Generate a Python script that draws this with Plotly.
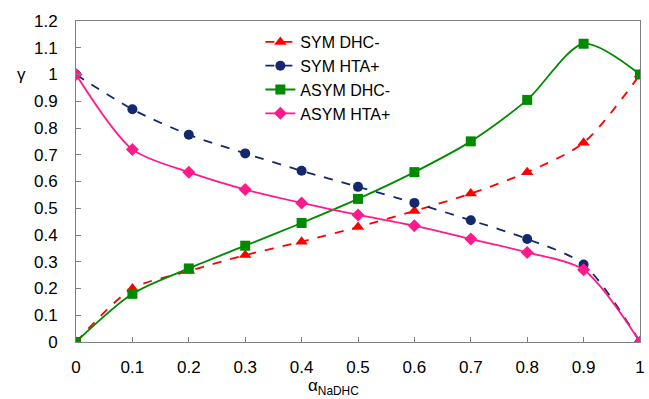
import plotly.graph_objects as go

x_vals = [0, 0.1, 0.2, 0.3, 0.4, 0.5, 0.6, 0.7, 0.8, 0.9, 1.0]
x_ticktext = ["0", "0.1", "0.2", "0.3", "0.4", "0.5", "0.6", "0.7", "0.8", "0.9", "1"]
sym_dhc = [0, 0.20, 0.265, 0.325, 0.375, 0.43, 0.49, 0.555, 0.635, 0.745, 1.0]
sym_hta = [1.0, 0.87, 0.775, 0.705, 0.64, 0.58, 0.52, 0.455, 0.385, 0.29, 0]
asym_dhc = [0, 0.18, 0.275, 0.36, 0.445, 0.535, 0.635, 0.75, 0.905, 1.115, 1.0]
asym_hta = [1.0, 0.72, 0.635, 0.57, 0.52, 0.475, 0.435, 0.385, 0.335, 0.27, 0]

names = ["SYM DHC-", "SYM HTA+", "ASYM DHC-", "ASYM HTA+"]
colors = ["#ff0000", "#13286e", "#008a00", "#ff1a8c"]
dashes = ["dash", "dash", "solid", "solid"]
symbols = ["triangle-up", "circle", "square", "diamond"]
sizes = [11, 10, 10, 10]

fig = go.Figure()
for ys, n, c, d, s, sz in zip([sym_dhc, sym_hta, asym_dhc, asym_hta], names, colors, dashes, symbols, sizes):
    fig.add_trace(go.Scatter(
        x=x_vals, y=ys, name=n, mode="lines+markers",
        line=dict(color=c, dash=d, width=1.8, shape="spline", smoothing=0.8),
        marker=dict(symbol=s, size=sz, color=c),
    ))

fig.update_layout(
    width=649, height=399,
    margin=dict(l=76, r=4, t=21, b=57),
    paper_bgcolor="white", plot_bgcolor="white",
    font=dict(family="Liberation Sans, Arial", size=17, color="#000"),
    showlegend=True,
    legend=dict(x=(262 - 76) / 569, y=1 - (25 - 21) / 321, xanchor="left", yanchor="top",
                bgcolor="rgba(0,0,0,0)", font=dict(size=16), tracegroupgap=0,
                itemwidth=30),
    xaxis=dict(range=[0, 1], tickvals=x_vals, ticktext=x_ticktext,
               showgrid=False, zeroline=False, showline=True, linecolor="#808080", linewidth=1,
               mirror=True, ticks="inside", ticklen=5, tickcolor="#808080",
               ticklabelstandoff=10, ticklabeloverflow="allow"),
    yaxis=dict(range=[0, 1.2], dtick=0.1, tickformat="~g",
               showgrid=False, zeroline=False, showline=True, linecolor="#808080", linewidth=1,
               mirror=True, ticks="inside", ticklen=5, tickcolor="#808080",
               ticklabelstandoff=14),
)
fig.add_annotation(text="γ", xref="paper", yref="y", x=0, xshift=-55, y=1.0, showarrow=False,
                   font=dict(size=17), xanchor="center", yanchor="middle")
fig.add_annotation(text="α<sub>NaDHC</sub>", xref="paper", yref="paper", x=(308 - 76) / 569, y=0,
                   yshift=-45, showarrow=False, font=dict(size=17), xanchor="left", yanchor="middle")
fig.write_html("out.html")
